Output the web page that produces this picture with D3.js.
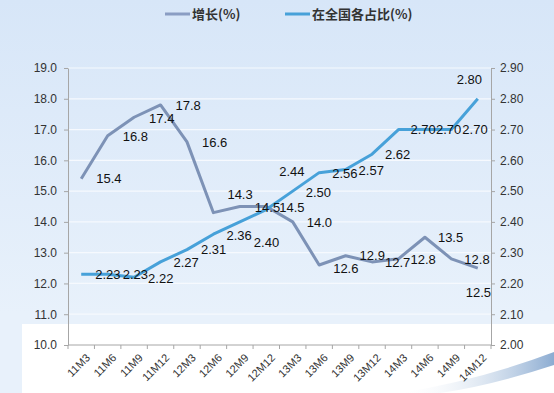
<!DOCTYPE html>
<html>
<head>
<meta charset="utf-8">
<script src="https://cdn.jsdelivr.net/npm/d3@7"></script>
<style>
  html, body { margin: 0; padding: 0; background: #dfeaf8; }
  svg { display: block; }
  text { font-family: "Liberation Sans", Arial, "Noto Sans CJK SC", sans-serif; }
</style>
</head>
<body>
<script>
// 数据
const categories = ["11M3","11M6","11M9","11M12","12M3","12M6","12M9","12M12",
                    "13M3","13M6","13M9","13M12","14M3","14M6","14M9","14M12"];
const growth = [15.4, 16.8, 17.4, 17.8, 16.6, 14.3, 14.5, 14.5,
                14.0, 12.6, 12.9, 12.7, 12.8, 13.5, 12.8, 12.5];
const share = [2.23, 2.23, 2.22, 2.27, 2.31, 2.36, 2.40, 2.44,
               2.50, 2.56, 2.57, 2.62, 2.70, 2.70, 2.70, 2.80];
const leftTicks = [10, 11, 12, 13, 14, 15, 16, 17, 18, 19];
const rightTicks = [2.0, 2.1, 2.2, 2.3, 2.4, 2.5, 2.6, 2.7, 2.8, 2.9];
const seriesNames = ["增长(%)", "在全国各占比(%)"];

// 标签偏移 (手动调整过的位置)
const growthLabelShift = [[15,0],[15,1],[15,1],[15,0],[15,0],[14,-18],[15,1],[13,1],
                          [14,0],[14,3],[14,0],[13,0],[12,0],[13,0],[13,0],[-12,24]];
const shareLabelShift = [[14,0],[15,0],[14,1],[13,0],[14,0],[13,1],[14,20],[13,-38],
                         [13,1],[13,1],[13,1],[13,0],[12,0],[11,0],[11,0],[-21,-19]];

const width = 554, height = 393;
const colGrowth = "#7d92b6", colShare = "#47a1d9";

const svg = d3.select("body").append("svg")
    .attr("width", width)
    .attr("height", height);

const defs = svg.append("defs");
const bg = defs.append("linearGradient").attr("id", "bg")
    .attr("x1", 0).attr("y1", 0).attr("x2", 0).attr("y2", 1);
bg.append("stop").attr("offset", "0%").attr("stop-color", "#d7e6f8");
bg.append("stop").attr("offset", "80%").attr("stop-color", "#e8f1fb");
const sw = defs.append("linearGradient").attr("id", "sw")
    .attr("x1", 0).attr("y1", 0).attr("x2", 1).attr("y2", 0);
sw.append("stop").attr("offset", "0%").attr("stop-color", "#ffffff").attr("stop-opacity", 0);
sw.append("stop").attr("offset", "100%").attr("stop-color", "#6f97c6");

// 背景
svg.append("rect").attr("width", width).attr("height", height).attr("fill", "url(#bg)");
svg.append("rect").attr("x", 22).attr("y", 324).attr("width", width - 22).attr("height", height - 324)
    .attr("fill", "#ffffff");
svg.append("path")
    .attr("d", "M400,393 Q480,380 554,352 L554,365 Q490,386 440,393 Z")
    .attr("fill", "url(#sw)").attr("opacity", 0.8);

// 比例尺
const x = d3.scaleBand().domain(categories).range([68, 491]);
const cx = d => x(d) + x.bandwidth() / 2;
const yL = d3.scaleLinear().domain([10, 19]).range([345, 68]);
const yR = d3.scaleLinear().domain([2.0, 2.9]).range([345, 68]);

// 网格
svg.append("g")
  .selectAll("line")
  .data(leftTicks.slice(1))
  .join("line")
    .attr("x1", 68).attr("x2", 491)
    .attr("y1", d => yL(d)).attr("y2", d => yL(d))
    .attr("stroke", "#f6f9fe").attr("stroke-width", 1.2);

const axisColor = "#a6a6a6";
const styleAxis = g => {
  g.select(".domain").attr("stroke", axisColor);
  g.selectAll(".tick line").attr("stroke", axisColor);
  g.selectAll(".tick text").attr("fill", "#333").style("font-size", "12px")
    .style("font-family", "'Liberation Sans', Arial, sans-serif");
};

svg.append("g")
    .attr("transform", "translate(68,0)")
    .call(d3.axisLeft(yL).tickValues(leftTicks).tickFormat(d3.format(".1f"))
      .tickSize(4).tickSizeOuter(0).tickPadding(7))
    .call(styleAxis);

svg.append("g")
    .attr("transform", "translate(491,0)")
    .call(d3.axisRight(yR).tickValues(rightTicks).tickFormat(d3.format(".2f"))
      .tickSize(4).tickSizeOuter(0).tickPadding(5))
    .call(styleAxis);

// X 轴
const xg = svg.append("g").attr("transform", "translate(0,345)");
xg.append("line").attr("x1", 68).attr("x2", 491).attr("stroke", axisColor);
xg.selectAll("line.tk")
  .data(categories.concat([null]))
  .join("line").attr("class", "tk")
    .attr("x1", (d, i) => 68 + i * x.step()).attr("x2", (d, i) => 68 + i * x.step())
    .attr("y1", 0).attr("y2", 4).attr("stroke", axisColor);
xg.selectAll("text")
  .data(categories)
  .join("text")
    .attr("transform", d => `translate(${cx(d) + 4},${8}) rotate(-45)`)
    .attr("text-anchor", "end")
    .attr("dy", "0.71em")
    .attr("fill", "#333")
    .style("font-size", "11px")
    .text(d => d);

// 折线
const lineG = d3.line().x((d, i) => cx(categories[i])).y(d => yL(d));
const lineS = d3.line().x((d, i) => cx(categories[i])).y(d => yR(d));

svg.append("path").datum(growth)
    .attr("fill", "none").attr("stroke", colGrowth).attr("stroke-width", 3)
    .attr("stroke-linejoin", "round").attr("d", lineG);
svg.append("path").datum(share)
    .attr("fill", "none").attr("stroke", colShare).attr("stroke-width", 3)
    .attr("stroke-linejoin", "round").attr("d", lineS);

// 数据标签
const labels = (vals, y, shift, fmt) => svg.append("g")
  .selectAll("text")
  .data(vals)
  .join("text")
    .attr("x", (d, i) => cx(categories[i]) + shift[i][0])
    .attr("y", (d, i) => y(d) + shift[i][1])
    .attr("dy", "0.36em")
    .attr("fill", "#111")
    .style("font-size", "13px")
    .text(d => fmt(d));

labels(growth, yL, growthLabelShift, d3.format(".1f"));
labels(share, yR, shareLabelShift, d3.format(".2f"));

// 图例
const legend = svg.append("g").attr("transform", "translate(165,14)");
const items = [
  {name: seriesNames[0], color: "#8a9dc3", x: 0},
  {name: seriesNames[1], color: colShare, x: 120}
];
const li = legend.selectAll("g").data(items).join("g")
    .attr("transform", d => `translate(${d.x},0)`);
li.append("line").attr("x1", 0).attr("x2", 25)
    .attr("stroke", d => d.color).attr("stroke-width", 3);
li.append("text").attr("x", 27).attr("dy", "0.36em")
    .attr("fill", "#333").style("font-size", "13px").style("font-weight", "bold")
    .style("font-family", "'Noto Sans CJK SC', sans-serif")
    .text(d => d.name);
</script>
</body>
</html>
